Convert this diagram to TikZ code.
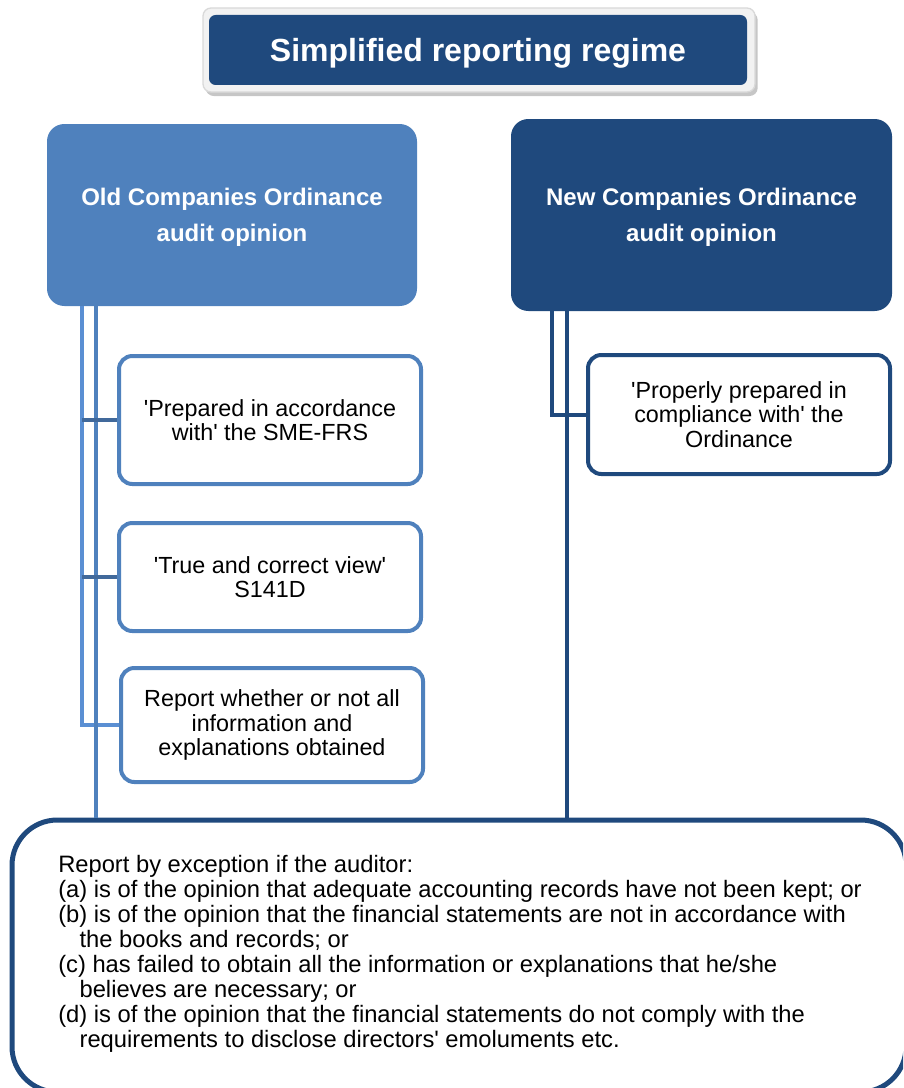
\documentclass[tikz,border=0pt]{standalone}
\usepackage{fontspec}
\setmainfont{Liberation Sans}
\usetikzlibrary{shapes,positioning,shadows}

\definecolor{darkblue}{HTML}{1F497D}
\definecolor{midblue}{HTML}{4F81BD}
\definecolor{lightblue}{HTML}{5A8FD3}
\definecolor{branchblue}{HTML}{41699B}

\begin{document}
\begin{tikzpicture}[x=0.75pt, y=-0.75pt,
    titleframe/.style={rectangle, rounded corners=6pt, draw=gray!30, fill=gray!10, line width=1pt, minimum width=414pt, minimum height=63pt, drop shadow={shadow xshift=2pt, shadow yshift=-3pt, opacity=0.45}},
    titlebox/.style={rectangle, rounded corners=5pt, fill=darkblue, text=white, text depth=0pt, minimum width=403.5pt, minimum height=52.5pt, font=\fontsize{24}{28}\selectfont\bfseries},
    headbox/.style={rectangle, rounded corners=13pt, text=white, text depth=0pt, align=center, font=\fontsize{18}{27}\selectfont\bfseries},
    childbox/.style={rectangle, rounded corners=10pt, fill=white, line width=3pt, align=center, minimum width=226.5pt, font=\fontsize{17.5}{18.5}\selectfont},
    link/.style={line width=3pt}]
    \useasboundingbox (0,0) rectangle (903,1088);
    \clip (0,0) rectangle (903,1088);

    % Title
    \node[titleframe] (frame) at (479,50) {};
    \node[titlebox] (title) at (478,50) {Simplified reporting regime};

    % Two headings
    \node[headbox, fill=midblue, minimum width=277.5pt, minimum height=136.5pt] (oldhead) at (232,215) {Old Companies Ordinance\\audit opinion};
    \node[headbox, fill=darkblue, minimum width=285.75pt, minimum height=144pt] (newhead) at (701.5,215) {New Companies Ordinance\\audit opinion};

    % Old ordinance items
    \node[childbox, draw=midblue, minimum height=96pt] (smefrs) at (270,420) {\textquotesingle Prepared in accordance\\with\textquotesingle\ the SME-FRS};
    \node[childbox, draw=midblue, minimum height=81pt] (truecorrect) at (270,577) {\textquotesingle True and correct view\textquotesingle\\S141D};
    \node[childbox, draw=midblue, minimum height=85.5pt] (allinfo) at (272,725) {Report whether or not all\\information and\\explanations obtained};

    % New ordinance item
    \node[childbox, draw=darkblue, minimum height=89.25pt] (properly) at (739,414.5) {\textquotesingle Properly prepared in\\compliance with\textquotesingle\ the\\Ordinance};

    % Report by exception
    \node[rectangle, rounded corners=34pt, draw=darkblue, line width=3.75pt, minimum width=670.5pt, minimum height=204pt] (exception) at (459,956) {};
    \node[anchor=north west, inner sep=0pt, align=left, font=\fontsize{17.8}{18.75}\selectfont] (exclist) at (58,855) {Report by exception if the auditor:\\
    (a) is of the opinion that adequate accounting records have not been kept; or\\
    (b) is of the opinion that the financial statements are not in accordance with\\
    \hspace*{16pt}the books and records; or\\
    (c) has failed to obtain all the information or explanations that he/she\\
    \hspace*{16pt}believes are necessary; or\\
    (d) is of the opinion that the financial statements do not comply with the\\
    \hspace*{16pt}requirements to disclose directors\textquotesingle\ emoluments etc.};

    % Connectors
    \coordinate (oldA) at (82,306);
    \coordinate (oldB) at (96,306);
    \coordinate (newA) at (552,311);
    \coordinate (newB) at (567,311);
    \draw[link, lightblue] (oldA) |- (allinfo.west);
    \draw[link, midblue] (oldB) -- (oldB |- exception.north);
    \draw[link, branchblue] (oldA |- smefrs.west) -- (smefrs.west);
    \draw[link, branchblue] (oldA |- truecorrect.west) -- (truecorrect.west);
    \draw[link, darkblue] (newA) |- (properly.west);
    \draw[link, darkblue] (newB) -- (newB |- exception.north);
\end{tikzpicture}
\end{document}
